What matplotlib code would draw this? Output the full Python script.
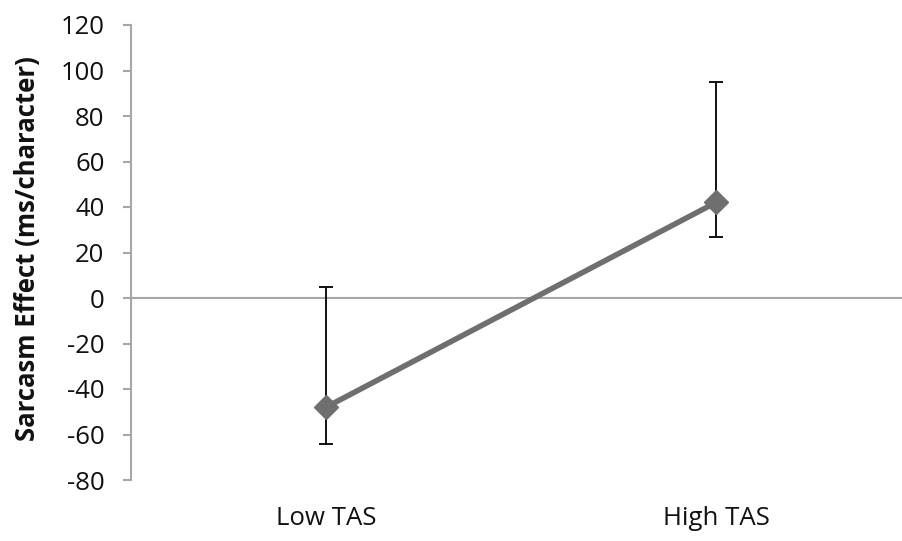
import numpy as np
import matplotlib
matplotlib.use("Agg")
import matplotlib.pyplot as plt

plt.rcParams['font.family'] = ['Open Sans', 'DejaVu Sans']

# Data
groups = ["Low TAS", "High TAS"]
effect = [-48, 42]
err_low = [16, 15]     # distance down to lower whisker
err_high = [53, 53]    # distance up to upper whisker
yticks = [-80, -60, -40, -20, 0, 20, 40, 60, 80, 100, 120]

fig = plt.figure(figsize=(9.02, 5.41), dpi=100)
ax = fig.add_axes([131 / 902, 61 / 541, 780 / 902, 455 / 541])

xpos = np.arange(len(groups))
grey = "#6f6f6f"

# zero line acts as the category axis
ax.axhline(0, color="#a6a6a6", lw=1.5, zorder=1)

ax.errorbar(xpos, effect, yerr=[err_low, err_high], fmt="none",
            ecolor="#111111", elinewidth=1.4, capsize=5, capthick=1.4, zorder=2)
ax.plot(xpos, effect, color=grey, lw=4, marker="D", markersize=12,
        markerfacecolor=grey, markeredgecolor=grey, zorder=3)

ax.set_xlim(-0.5, 1.5)
ax.set_ylim(-80, 120)
ax.set_yticks(yticks)
ax.set_yticklabels([str(t) for t in yticks], fontsize=18.5, color="#111111")
ax.set_xticks(xpos)
ax.set_xticklabels(groups, fontsize=18.5, color="#111111")
ax.tick_params(axis="x", length=0, pad=19)
ax.tick_params(axis="y", length=6, width=1.5, color="#a6a6a6", pad=13)

for s in ["top", "right", "bottom"]:
    ax.spines[s].set_visible(False)
ax.spines["left"].set_color("#a6a6a6")
ax.spines["left"].set_linewidth(1.5)

fig.text(28 / 902, 1 - 249 / 541, "Sarcasm Effect (ms/character)",
         rotation=90, ha="center", va="center", fontsize=18.5,
         fontweight="bold", color="#111111")

fig.savefig("out.png", dpi=100)
